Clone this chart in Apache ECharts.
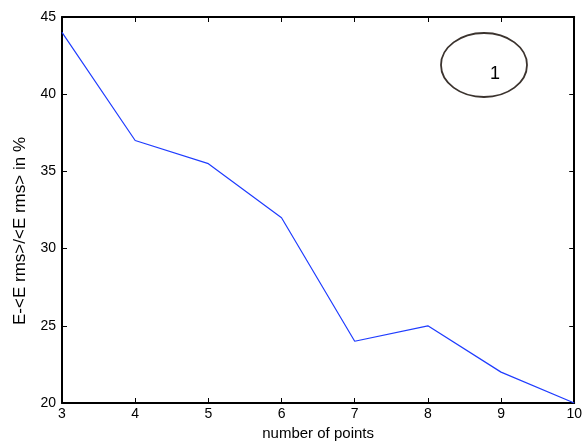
<!DOCTYPE html>
<html>
<head>
<meta charset="utf-8">
<script src="https://cdn.jsdelivr.net/npm/echarts@6/dist/echarts.min.js"></script>
<style>
  html, body { margin: 0; padding: 0; background: #fff; }
  #chart { width: 585px; height: 446px; }
</style>
</head>
<body>
<div id="chart"></div>
<script>
var points = [3, 4, 5, 6, 7, 8, 9, 10];
var errors = [44, 37, 35.5, 32, 24, 25, 22, 20];

var myChart = echarts.init(document.getElementById('chart'));

var data = points.map(function (p, i) { return [p, errors[i]]; });

var axisFont = { color: '#000', fontFamily: 'Liberation Sans, Arial', fontSize: 14 };

var option = {
    animation: false,
    grid: { left: 62, right: 9, top: 17, bottom: 40 },
    xAxis: [{
        type: 'value',
        min: 3, max: 10, interval: 1,
        name: 'number of points',
        nameLocation: 'middle',
        nameGap: 23,
        nameTextStyle: { color: '#000', fontFamily: 'Liberation Sans, Arial', fontSize: 15 },
        axisLine: { lineStyle: { color: '#000', width: 2 } },
        axisTick: { inside: true, length: 5, lineStyle: { color: '#000' } },
        axisLabel: Object.assign({ margin: 4 }, axisFont),
        splitLine: { show: false }
    }, {
        type: 'value',
        position: 'top',
        min: 3, max: 10, interval: 1,
        axisLine: { lineStyle: { color: '#000', width: 2 } },
        axisTick: { inside: true, length: 5, lineStyle: { color: '#000' } },
        axisLabel: { show: false },
        splitLine: { show: false }
    }],
    yAxis: [{
        type: 'value',
        min: 20, max: 45, interval: 5,
        axisLine: { lineStyle: { color: '#000', width: 2 } },
        axisTick: { inside: true, length: 5, lineStyle: { color: '#000' } },
        axisLabel: Object.assign({ margin: 6 }, axisFont),
        splitLine: { show: false }
    }, {
        type: 'value',
        position: 'right',
        min: 20, max: 45, interval: 5,
        axisLine: { lineStyle: { color: '#000', width: 2 } },
        axisTick: { inside: true, length: 5, lineStyle: { color: '#000' } },
        axisLabel: { show: false },
        splitLine: { show: false }
    }],
    graphic: [{
        // y axis title, sits a bit below the plot middle like the original
        type: 'text',
        x: 20, y: 231,
        rotation: Math.PI / 2,
        style: { text: 'E-<E rms>/<E rms> in %', fill: '#000', font: '17px Liberation Sans, Arial', textAlign: 'center', textVerticalAlign: 'middle' }
    }, {
        type: 'ellipse',
        shape: { cx: 484, cy: 65, rx: 43, ry: 32 },
        style: { fill: 'none', stroke: '#3b332e', lineWidth: 1.8 }
    }, {
        type: 'text',
        x: 495, y: 74,
        style: { text: '1', fill: '#000', font: '18px Liberation Sans, Arial', textAlign: 'center', textVerticalAlign: 'middle' }
    }],
    series: [{
        type: 'line',
        data: data,
        symbol: 'none',
        lineStyle: { color: '#1f3cff', width: 1.2 }
    }]
};

myChart.setOption(option);
</script>
</body>
</html>
